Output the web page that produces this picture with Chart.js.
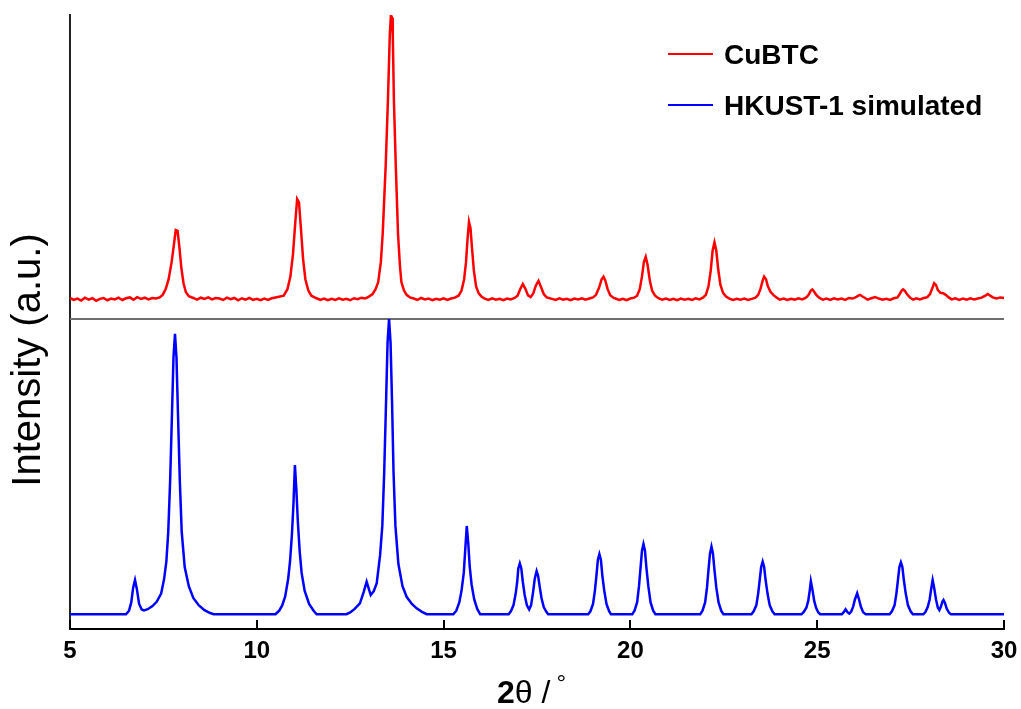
<!DOCTYPE html>
<html>
<head>
<meta charset="utf-8">
<title>CuBTC XRD</title>
<script src="https://cdn.jsdelivr.net/npm/chart.js@4"></script>
<style>
  html, body { margin: 0; padding: 0; background: #fff; }
  #wrap { width: 1021px; height: 709px; position: relative; }
</style>
</head>
<body>
<div id="wrap"><canvas id="xrd"></canvas></div>
<script>
// x axis ticks (2theta, degrees)
const xTicks = [5, 10, 15, 20, 25, 30];

const seriesNames = ["CuBTC", "HKUST-1 simulated"];

// measured pattern, [2theta, intensity] (top panel, strongest peak = 100)
const cubtc = [
  [5.0,0.4],[5.1,-0.3],[5.2,0.2],[5.3,-0.5],[5.4,0.5],[5.5,-0.2],[5.6,0.3],[5.7,-0.6],[5.8,0.1],[5.9,0.4],
  [6.0,-0.4],[6.1,0.2],[6.2,-0.1],[6.3,0.5],[6.4,-0.3],[6.5,0.3],[6.6,0.6],[6.7,-0.2],[6.8,0.7],[6.9,0.1],
  [7.0,0.5],[7.1,-0.1],[7.2,0.4],[7.3,0.2],[7.4,0.6],
  [7.48,1.5],[7.56,3.5],[7.64,7],[7.72,13],[7.78,19],[7.83,24.3],[7.88,24],[7.93,18],[7.98,11],[8.04,5.5],[8.1,2.5],[8.18,1.0],
  [8.3,0.4],[8.4,-0.2],[8.5,0.5],[8.6,0.1],[8.7,0.6],[8.8,-0.1],[8.9,0.4],[9.0,0.2],[9.1,-0.3],[9.2,0.5],
  [9.3,0.0],[9.4,0.4],[9.5,-0.4],[9.6,0.3],[9.7,-0.2],[9.8,0.4],[9.9,-0.3],[10.0,0.1],[10.1,-0.4],[10.2,0.2],
  [10.3,-0.3],[10.4,0.3],[10.5,0.6],
  [10.72,1.2],[10.82,3.5],[10.9,8],[10.97,16],[11.03,27],[11.08,35.2],[11.13,34],[11.18,25],[11.24,14],[11.3,7],[11.38,3],[11.46,1.2],
  [11.6,0.3],[11.7,-0.3],[11.8,0.2],[11.9,-0.4],[12.0,0.1],[12.1,-0.3],[12.2,0.3],[12.3,-0.2],[12.4,0.1],
  [12.5,-0.4],[12.6,0.3],[12.7,0.0],[12.8,0.5],[12.9,0.2],[13.0,0.9],
  [13.1,1.8],[13.18,3.5],[13.25,6],[13.32,13],[13.37,23],[13.41,35],[13.45,47],[13.51,70],[13.56,93],[13.59,100],
  [13.62,99],[13.64,93],[13.67,70],[13.72,47],[13.78,23],[13.83,12],[13.87,6],[13.94,3],[14.01,1.5],[14.1,0.6],
  [14.2,0.2],[14.3,-0.3],[14.4,0.4],[14.5,-0.1],[14.6,0.2],[14.7,-0.4],[14.8,0.1],[14.9,-0.2],[15.0,0.3],
  [15.1,-0.3],[15.2,0.2],[15.3,0.5],
  [15.4,1.2],[15.48,3],[15.55,7],[15.6,13],[15.64,21],[15.68,27.2],[15.72,25],[15.76,18],[15.81,10],[15.87,4.5],[15.94,2],[16.02,0.8],
  [16.1,0.2],[16.2,-0.3],[16.3,0.3],[16.4,-0.2],[16.5,0.1],[16.6,-0.4],[16.7,0.2],[16.8,-0.1],[16.9,0.4],
  [16.98,1.2],[17.05,3.5],[17.12,5.3],[17.19,3.6],[17.26,1.3],[17.33,0.7],[17.4,2],[17.47,4.8],[17.54,6.4],[17.61,4.2],[17.68,1.8],[17.76,0.6],
  [17.9,0.1],[18.0,-0.3],[18.1,0.3],[18.2,-0.2],[18.3,0.1],[18.4,-0.4],[18.5,0.2],[18.6,-0.1],[18.7,0.3],
  [18.8,-0.2],[18.9,0.2],[19.0,0.6],
  [19.08,1.5],[19.16,4],[19.23,7],[19.28,7.9],[19.33,6.5],[19.39,3.5],[19.46,1.4],[19.55,0.4],
  [19.6,0.2],[19.7,-0.3],[19.8,0.1],[19.9,-0.4],[20.0,0.2],[20.1,0.5],
  [20.18,1.2],[20.25,3.5],[20.31,8],[20.36,13],[20.41,14.9],[20.46,12],[20.52,6.5],[20.58,3],[20.66,1.2],
  [20.75,0.3],[20.85,-0.2],[20.95,0.2],[21.05,-0.3],[21.15,0.1],[21.25,-0.4],[21.35,0.2],[21.45,-0.2],
  [21.55,0.1],[21.65,-0.3],[21.75,0.3],[21.85,-0.1],[21.95,0.6],
  [22.02,1.5],[22.09,4.5],[22.15,10],[22.2,17],[22.25,20],[22.3,17],[22.35,10.5],[22.41,5],[22.48,2.2],[22.56,0.9],
  [22.65,0.2],[22.75,-0.3],[22.85,0.1],[22.95,-0.2],[23.05,0.2],[23.15,-0.3],[23.25,0.1],[23.35,0.5],
  [23.42,1.5],[23.48,3.5],[23.54,6.5],[23.58,7.9],[23.63,7],[23.68,4.5],[23.75,2.6],[23.83,1.4],[23.92,0.5],
  [24.0,-0.2],[24.1,0.2],[24.2,-0.3],[24.3,0.1],[24.4,-0.2],[24.5,0.3],[24.6,-0.1],[24.7,0.5],
  [24.77,1.5],[24.83,3],[24.87,3.4],[24.92,2.6],[24.98,1.4],[25.06,0.4],
  [25.15,-0.2],[25.25,0.2],[25.35,-0.3],[25.45,0.3],[25.55,-0.1],[25.65,0.2],[25.75,-0.3],[25.85,0.4],[25.95,0.2],
  [26.05,0.8],[26.1,1.2],[26.15,1.5],[26.2,1.0],[26.28,0.4],
  [26.35,-0.2],[26.45,0.3],[26.55,0.7],[26.65,0.2],[26.75,-0.2],[26.85,0.1],[26.95,-0.3],[27.05,0.3],[27.15,0.6],
  [27.21,1.8],[27.26,3.0],[27.3,3.4],[27.35,2.8],[27.41,1.6],[27.49,0.5],
  [27.57,-0.2],[27.65,0.3],[27.75,-0.1],[27.85,0.4],[27.95,0.7],
  [28.02,1.8],[28.08,3.8],[28.13,5.6],[28.18,5],[28.23,3.2],[28.3,2.2],[28.37,2.1],[28.44,1.5],[28.52,0.6],
  [28.6,-0.1],[28.7,0.3],[28.8,-0.3],[28.9,0.2],[29.0,-0.2],[29.1,0.3],[29.2,-0.1],[29.3,0.2],[29.4,0.5],
  [29.5,1.2],[29.56,1.8],[29.62,1.3],[29.7,0.6],
  [29.8,0.2],[29.9,0.6],[30.0,0.4]
];

// simulated pattern, [2theta, intensity] (bottom panel, strongest peak = 100)
const hkust = [
  [5.0,0],[6.5,0],[6.58,1.2],[6.64,4],[6.69,9],[6.74,11.6],[6.79,8.5],[6.85,3.5],[6.92,1.6],[6.98,1.3],
  [7.08,1.7],[7.2,2.7],[7.32,4.2],[7.44,7],[7.52,12],[7.58,18],[7.63,28],[7.68,45],[7.73,68],[7.77,87],
  [7.81,95],[7.85,87],[7.89,68],[7.94,45],[7.99,28],[8.07,16],[8.18,9.5],[8.3,5.5],[8.45,3],[8.6,1.4],[8.75,0.4],[8.85,0],
  [10.5,0],[10.6,1.2],[10.68,3],[10.76,6],[10.84,12],[10.89,18],[10.94,27],[10.98,37],[11.02,50.5],
  [11.06,42],[11.1,31],[11.15,21],[11.2,14],[11.28,8],[11.4,3.5],[11.52,1.2],[11.6,0],
  [12.4,0],[12.5,0.6],[12.62,1.8],[12.76,3.7],[12.86,7.5],[12.94,11],[13.0,8.5],[13.05,6.5],[13.13,7.8],
  [13.21,10.5],[13.3,20],[13.36,30],[13.41,48],[13.46,72],[13.5,92],[13.54,100],[13.58,92],[13.62,72],
  [13.66,48],[13.71,30],[13.79,17],[13.9,9.5],[14.01,5.9],[14.15,3.5],[14.28,2.0],[14.42,0.8],[14.55,0],
  [15.26,0],[15.34,1.2],[15.42,4],[15.48,8],[15.54,14],[15.58,22],[15.62,29.9],[15.66,24],[15.7,16],
  [15.75,10],[15.82,5],[15.9,1.8],[15.98,0],
  [16.74,0],[16.8,1],[16.87,3],[16.93,7],[16.97,11],[17.0,15.5],[17.04,17.2],[17.08,15.5],[17.12,11],
  [17.17,6.5],[17.23,3],[17.29,1.6],[17.34,3],[17.39,7],[17.44,12],[17.49,14.6],[17.53,13],[17.57,9.5],
  [17.62,5.5],[17.68,2.4],[17.75,0.8],[17.8,0],
  [18.87,0],[18.93,1],[19.0,3.5],[19.05,8],[19.09,13],[19.13,18.5],[19.17,20.4],[19.21,18.5],[19.25,13],
  [19.3,8],[19.36,3.5],[19.43,1],[19.48,0],
  [20.05,0],[20.11,1.2],[20.18,4],[20.23,9.5],[20.27,15.5],[20.31,21.5],[20.35,23.8],[20.39,21.5],[20.43,15.5],
  [20.48,9.5],[20.54,4],[20.61,1.2],[20.67,0],
  [21.87,0],[21.93,1.2],[22.0,4],[22.05,9],[22.09,15],[22.13,20.5],[22.17,22.9],[22.21,20.5],[22.25,15],
  [22.3,9],[22.36,4],[22.43,1.2],[22.49,0],
  [23.24,0],[23.3,1],[23.37,3],[23.42,7],[23.46,11.5],[23.5,16],[23.54,17.8],[23.58,16],[23.62,11.5],
  [23.67,7],[23.73,3],[23.8,1],[23.86,0],
  [24.58,0],[24.64,0.8],[24.71,2.2],[24.76,4.5],[24.8,8],[24.83,11.2],[24.87,8.5],[24.92,4.5],[24.97,2.2],
  [25.03,0.6],[25.08,0],
  [25.66,0],[25.71,0.7],[25.76,1.7],[25.81,0.7],[25.86,0.2],[25.91,0.9],[25.96,2.5],[26.01,5],[26.07,7.1],
  [26.12,5],[26.17,2.5],[26.23,0.7],[26.3,0],
  [26.94,0],[27.0,1],[27.07,3],[27.12,7],[27.16,11.5],[27.2,16],[27.24,17.6],[27.28,16],[27.32,11.5],
  [27.37,7],[27.43,3],[27.5,1],[27.56,0],
  [27.84,0],[27.9,0.8],[27.96,2.5],[28.01,5],[28.05,8.5],[28.09,11.6],[28.13,9],[28.18,5],[28.23,2.2],
  [28.27,1.4],[28.31,2.5],[28.35,4.2],[28.38,4.8],[28.42,3.8],[28.47,1.8],[28.53,0.5],[28.58,0],[30.0,0]
];

const FONT = "'Liberation Sans', Arial, Helvetica, sans-serif";

// grey line between the two panels + inward tick marks on the 2theta axis
const framePlugin = {
  id: "frame",
  beforeDatasetsDraw(chart) {
    const { ctx, chartArea, scales } = chart;
    const y = Math.round(scales.yBot.getPixelForValue(scales.yBot.max));
    ctx.save();
    ctx.strokeStyle = "#6e6e6e";
    ctx.lineWidth = 2;
    ctx.beginPath();
    ctx.moveTo(chartArea.left, y);
    ctx.lineTo(chartArea.right, y);
    ctx.stroke();
    ctx.restore();
  },
  afterDraw(chart) {
    const { ctx, chartArea, scales } = chart;
    ctx.save();
    ctx.strokeStyle = "#000";
    ctx.lineWidth = 2;
    scales.x.ticks.forEach((t) => {
      const x = Math.round(scales.x.getPixelForValue(t.value));
      ctx.beginPath();
      ctx.moveTo(x, chartArea.bottom);
      ctx.lineTo(x, chartArea.bottom - 9);
      ctx.stroke();
    });
    ctx.restore();
  }
};

// legend in the upper right of the plot + axis titles
const labelsPlugin = {
  id: "labels",
  afterDraw(chart) {
    const ctx = chart.ctx;
    ctx.save();

    // legend
    chart.data.datasets.forEach((ds, i) => {
      const y = 54 + i * 51;
      ctx.strokeStyle = ds.borderColor;
      ctx.lineWidth = 2;
      ctx.beginPath();
      ctx.moveTo(668, y);
      ctx.lineTo(713, y);
      ctx.stroke();
      ctx.fillStyle = "#000";
      ctx.font = "bold 28px " + FONT;
      ctx.textBaseline = "middle";
      ctx.textAlign = "left";
      ctx.fillText(ds.label, 724, y + 2);
    });

    // y title
    ctx.save();
    ctx.translate(29, 360);
    ctx.rotate(-Math.PI / 2);
    ctx.font = "40px " + FONT;
    ctx.textAlign = "center";
    ctx.textBaseline = "middle";
    ctx.fillText("Intensity (a.u.)", 0, 0);
    ctx.restore();

    // x title: 2θ / °
    ctx.textBaseline = "alphabetic";
    ctx.textAlign = "left";
    let x = 497;
    const base = 703;
    ctx.font = "bold 32px " + FONT;
    ctx.fillText("2", x, base);
    x += ctx.measureText("2").width;
    ctx.font = "32px " + FONT;
    ctx.fillText("θ /", x, base);
    x += ctx.measureText("θ /").width + 6;
    ctx.font = "24px " + FONT;
    ctx.fillText("°", x, base - 12);

    ctx.restore();
  }
};

new Chart(document.getElementById("xrd"), {
  type: "line",
  data: {
    datasets: [
      {
        label: seriesNames[0],
        data: cubtc,
        yAxisID: "yTop",
        borderColor: "#ff0000",
        borderWidth: 2.5,
        pointRadius: 0,
        tension: 0
      },
      {
        label: seriesNames[1],
        data: hkust,
        yAxisID: "yBot",
        borderColor: "#0000ff",
        borderWidth: 2.5,
        pointRadius: 0,
        tension: 0
      }
    ]
  },
  options: {
    responsive: true,
    maintainAspectRatio: false,
    animation: false,
    devicePixelRatio: 1,
    events: [],
    layout: {
      padding: { left: 70, right: 17, top: 15, bottom: 0 }
    },
    plugins: {
      legend: { display: false },
      tooltip: { enabled: false }
    },
    scales: {
      x: {
        type: "linear",
        min: 5,
        max: 30,
        afterBuildTicks: (s) => {
          s.ticks = xTicks.map((v) => ({ value: v }));
        },
        afterFit: (s) => {
          s.height = 80;
        },
        grid: { display: false },
        border: { color: "#000", width: 2 },
        ticks: {
          color: "#000",
          padding: 0,
          maxRotation: 0,
          font: { family: FONT, size: 24, weight: "bold" }
        }
      },
      yBot: {
        type: "linear",
        position: "left",
        stack: "xrd",
        stackWeight: 310,
        min: -5,
        max: 100,
        afterFit: (s) => {
          s.width = 0;
        },
        grid: { display: false },
        border: { color: "#222", width: 2 },
        ticks: { display: false }
      },
      yTop: {
        type: "linear",
        position: "left",
        stack: "xrd",
        stackWeight: 304,
        min: -7,
        max: 100,
        afterFit: (s) => {
          s.width = 0;
        },
        grid: { display: false },
        border: { color: "#222", width: 2 },
        ticks: { display: false }
      }
    }
  },
  plugins: [framePlugin, labelsPlugin]
});
</script>
</body>
</html>
